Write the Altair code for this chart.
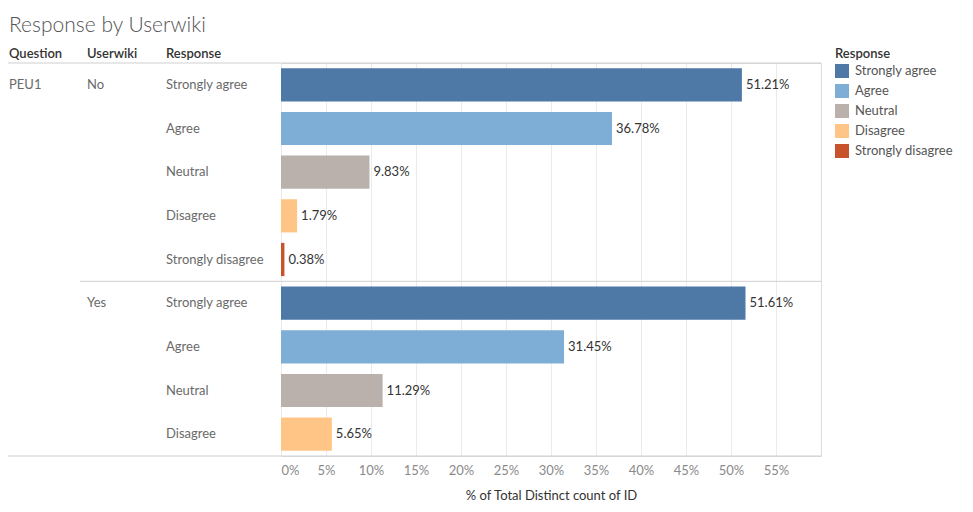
import altair as alt
import pandas as pd

# ---- data ----
questions = ["PEU1"] * 9
userwiki = ["No", "No", "No", "No", "No", "Yes", "Yes", "Yes", "Yes"]
responses = ["Strongly agree", "Agree", "Neutral", "Disagree", "Strongly disagree",
             "Strongly agree", "Agree", "Neutral", "Disagree"]
shares_pct = [51.21, 36.78, 9.83, 1.79, 0.38, 51.61, 31.45, 11.29, 5.65]

response_levels = ["Strongly agree", "Agree", "Neutral", "Disagree", "Strongly disagree"]
response_colors = ["#4e79a7", "#7eadd6", "#bab0ac", "#ffc586", "#c8522a"]
headers = ["Question", "Userwiki", "Response"]
x_ticks = [0, 0.05, 0.10, 0.15, 0.20, 0.25, 0.30, 0.35, 0.40, 0.45, 0.50, 0.55]

W, H = 540, 393
FONT = "Lato"
FS = 13

rows = [f"{u} | {r}" for u, r in zip(userwiki, responses)]
q_label = [q if i == 0 else "" for i, q in enumerate(questions)]
u_label = [u if (i == 0 or userwiki[i - 1] != u) else "" for i, u in enumerate(userwiki)]

df = pd.DataFrame({
    "row": rows,
    "question": q_label,
    "userwiki": u_label,
    "Response": responses,
    "share": [v / 100 for v in shares_pct],
})

y_enc = alt.Y("row:N", sort=rows, axis=None,
              scale=alt.Scale(paddingInner=0.24, paddingOuter=0.12))

base = alt.Chart(df)

bars = base.mark_bar().encode(
    x=alt.X("share:Q",
            scale=alt.Scale(domain=[0, 0.6], nice=False),
            axis=alt.Axis(values=x_ticks, format=".0%", title="% of Total Distinct count of ID",
                          domain=False, ticks=False, labelFlush=True, labelPadding=8,
                          labelColor="#8a8a8a", labelFontSize=FS, labelFont=FONT,
                          titleFont=FONT, titleFontSize=FS, titleFontWeight="normal",
                          titleColor="#333333", titlePadding=12,
                          grid=True, gridColor="#ebebeb")),
    y=y_enc,
    color=alt.Color("Response:N",
                    scale=alt.Scale(domain=response_levels, range=response_colors),
                    legend=alt.Legend(orient="none", legendX=554, legendY=-15,
                                      title="Response", titleFont=FONT, titleFontSize=FS,
                                      titleFontWeight=600, titleColor="#333333", titlePadding=3,
                                      symbolType="square", symbolSize=196, symbolStrokeWidth=0,
                                      symbolOpacity=1, rowPadding=6, labelFont=FONT,
                                      labelFontSize=FS, labelColor="#555555", labelOffset=6)),
)

values = base.mark_text(align="left", baseline="middle", dx=4, font=FONT, fontSize=FS,
                        color="#333333").encode(
    x="share:Q", y=y_enc, text=alt.Text("share:Q", format=".2%"))

resp_text = base.mark_text(align="left", baseline="middle", font=FONT, fontSize=FS,
                           color="#6a6a6a").encode(
    x=alt.value(-115), y=y_enc, text="Response:N")

uw_text = base.mark_text(align="left", baseline="middle", font=FONT, fontSize=FS,
                         color="#6a6a6a").encode(
    x=alt.value(-194), y=y_enc, text="userwiki:N")

q_text = base.mark_text(align="left", baseline="middle", font=FONT, fontSize=FS,
                        color="#6a6a6a").encode(
    x=alt.value(-272), y=y_enc, text="question:N")

one = pd.DataFrame({"k": [0]})
header_x = [-272, -194, -115]
header_layers = [
    alt.Chart(one).mark_text(text=h, align="left", baseline="alphabetic", font=FONT,
                             fontSize=FS, fontWeight=600, color="#333333").encode(
        x=alt.value(hx), y=alt.value(-5))
    for h, hx in zip(headers, header_x)
]

line_col = "#cfcfcf"
top_line = alt.Chart(one).mark_rule(color=line_col).encode(
    x=alt.value(-281), x2=alt.value(W), y=alt.value(0))
bottom_line = alt.Chart(one).mark_rule(color=line_col).encode(
    x=alt.value(-281), x2=alt.value(W), y=alt.value(H))
sep_line = alt.Chart(one).mark_rule(color=line_col).encode(
    x=alt.value(-201), x2=alt.value(W), y=alt.value(H * 5 / 9))

chart = alt.layer(
    bars, values, resp_text, uw_text, q_text, *header_layers,
    top_line, bottom_line, sep_line,
).properties(
    width=W, height=H,
    title=alt.Title("Response by Userwiki", anchor="start", frame="group", dx=-272, dy=-8,
                    font=FONT, fontSize=21, fontWeight=300, color="#555555"),
    autosize=alt.AutoSizeParams(type="none"),
    padding={"left": 273, "top": 55, "right": 136, "bottom": 48},
).configure_view(stroke=line_col).configure(background="white")

chart.save("out.html", embed_options={"renderer": "svg", "actions": False})
